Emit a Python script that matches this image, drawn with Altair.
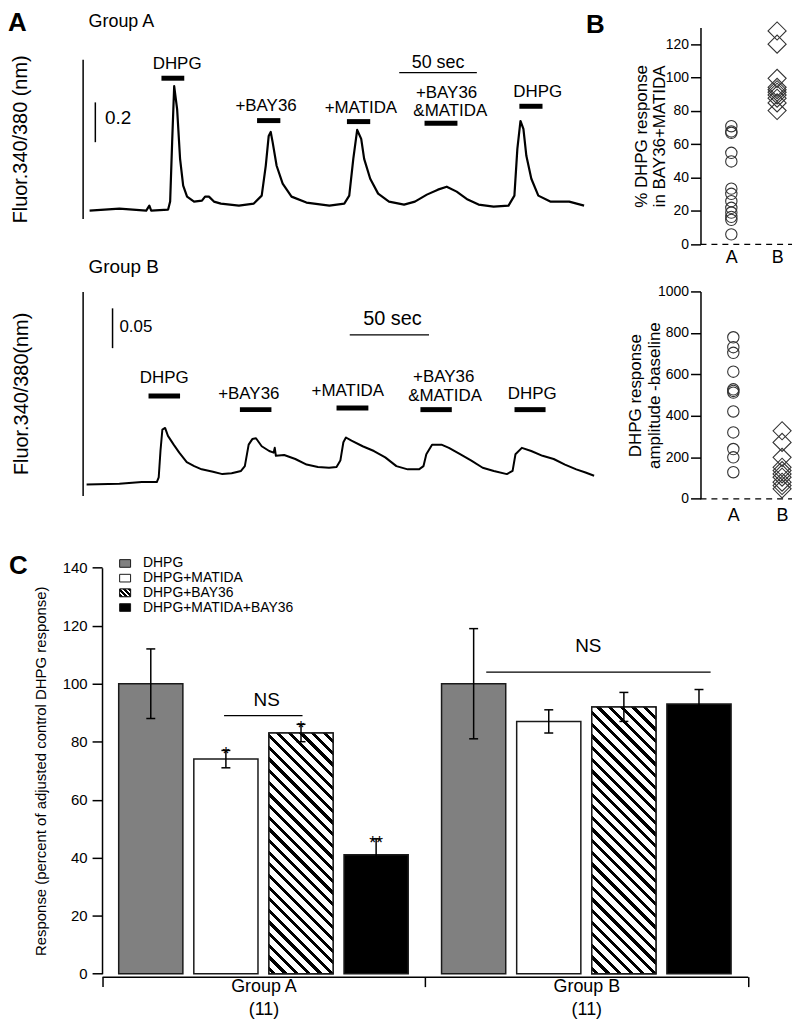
import altair as alt
import pandas as pd

FONT = "Liberation Sans"

# ======================= DATA =======================
# ---- Panel A, Group A trace: time (s) and Fluor 340/380 ratio ----
ga_time = [0, 19.2, 36.5, 38.5, 39.7, 50.6, 51.9, 53.2, 54.5, 56.4,
           58.3, 60.3, 62.8, 67.3, 72.4, 74.4, 76.9, 80.1, 84.6, 96.2,
           105.8, 110.9, 113.5, 115.4, 116.7, 117.9, 120.5, 124.4, 130.1, 139.7,
           154.5, 164.1, 167.3, 169.9, 172.4, 175.0, 176.9, 180.8, 185.9, 192.9,
           202.6, 209.6, 217.3, 224.4, 230.1, 236.5, 243.6, 250.6, 260.3, 269.9,
           273.7, 275.6, 277.6, 279.5, 281.4, 284.6, 289.1, 296.8, 309.0, 318.6]
ga_ratio = [0.50, 0.51, 0.50, 0.525, 0.50, 0.505, 0.545, 0.845, 1.125, 1.01,
            0.76, 0.625, 0.57, 0.545, 0.55, 0.57, 0.57, 0.545, 0.535, 0.525,
            0.535, 0.575, 0.725, 0.875, 0.895, 0.845, 0.725, 0.635, 0.57, 0.54,
            0.525, 0.535, 0.575, 0.76, 0.905, 0.86, 0.76, 0.66, 0.585, 0.545,
            0.53, 0.545, 0.58, 0.605, 0.62, 0.595, 0.555, 0.53, 0.52, 0.525,
            0.575, 0.81, 0.95, 0.91, 0.775, 0.66, 0.575, 0.545, 0.545, 0.525]
ga_drug_start = [46.3, 107.9, 165.8, 215.8, 276.9]
ga_drug_end = [61.0, 122.9, 180.8, 237.0, 291.8]
ga_drug_level = [1.165, 0.952, 0.947, 0.939, 1.024]
ga_label_text = ["DHPG", "+BAY36", "+MATIDA", "+BAY36", "&MATIDA", "DHPG"]
ga_label_time = [56.4, 113.7, 174.8, 230.0, 232.4, 288.7]
ga_label_ratio = [1.235, 1.023, 1.015, 1.092, 1.002, 1.095]
ga_sec_start = [199.5]
ga_sec_end = [249.5]
ga_sec_level = [1.1935]
ga_sec_label = ["50 sec"]
ga_sec_label_time = [224.5]
ga_sec_label_ratio = [1.2415]
ga_amp_time = [3.7]
ga_amp_low = [0.8435]
ga_amp_high = [1.0435]
ga_amp_label = ["0.2"]
ga_amp_label_time = [10.0]
ga_amp_label_ratio = [0.965]

# ---- Panel A, Group B trace ----
gb_time = [0, 20.6, 34.7, 44.1, 45.3, 46.4, 47.6, 49.3, 51.1, 54.7,
           58.2, 62.9, 67.6, 72.3, 79.4, 85.3, 91.1, 97.0, 99.4, 101.8,
           104.1, 106.4, 110.0, 114.7, 117.5, 118.2, 118.9, 124.1, 131.1, 138.2,
           145.3, 152.3, 157.0, 159.4, 161.3, 162.9, 166.4, 173.4, 180.5, 187.6,
           194.6, 201.7, 208.8, 211.6, 213.4, 217.0, 222.9, 227.6, 234.6, 241.7,
           248.8, 255.8, 264.0, 267.6, 269.4, 273.4, 279.3, 286.4, 293.4, 300.5,
           307.6, 313.4, 318.8]
gb_ratio = [0.500, 0.501, 0.503, 0.503, 0.509, 0.542, 0.569, 0.571, 0.561, 0.550,
            0.540, 0.528, 0.523, 0.519, 0.516, 0.513, 0.514, 0.517, 0.523, 0.550,
            0.557, 0.558, 0.548, 0.542, 0.540, 0.546, 0.536, 0.537, 0.532, 0.525,
            0.522, 0.521, 0.522, 0.530, 0.553, 0.559, 0.555, 0.548, 0.542, 0.534,
            0.523, 0.519, 0.519, 0.523, 0.538, 0.550, 0.550, 0.546, 0.538, 0.530,
            0.521, 0.517, 0.513, 0.517, 0.538, 0.546, 0.542, 0.536, 0.532, 0.525,
            0.519, 0.515, 0.511]
gb_drug_start = [38.9, 96.3, 157.0, 209.7, 268.8]
gb_drug_end = [58.7, 116.1, 177.0, 229.4, 288.3]
gb_drug_level = [0.611, 0.594, 0.596, 0.594, 0.594]
gb_label_text = ["DHPG", "+BAY36", "+MATIDA", "+BAY36", "&MATIDA", "DHPG"]
gb_label_time = [48.8, 101.9, 164.1, 224.3, 225.2, 279.9]
gb_label_ratio = [0.634, 0.613, 0.617, 0.6345, 0.6115, 0.614]
gb_sec_start = [165.3]
gb_sec_end = [215.1]
gb_sec_level = [0.6879]
gb_sec_label = ["50 sec"]
gb_sec_label_time = [192.1]
gb_sec_label_ratio = [0.7084]
gb_amp_time = [16.3]
gb_amp_low = [0.67125]
gb_amp_high = [0.72125]
gb_amp_label = ["0.05"]
gb_amp_label_time = [20.6]
gb_amp_label_ratio = [0.698]

# ---- Panel B ----
b_groups = ["A", "B"]
pct_A = [70.8, 67.7, 66.9, 54.9, 49.7, 33.4, 30.3, 25.9, 21.9, 19.1, 16.5, 14.7, 6.0]
pct_B = [127.9, 120.0, 99.5, 94.1, 92.7, 91.2, 89.6, 87.6, 84.8, 80.2]
amp_A = [779, 731, 704, 613, 528, 520, 512, 421, 320, 240, 200, 128]
amp_B = [328, 272, 200, 152, 136, 120, 104, 80, 64, 48]

# ---- Panel C ----
conds = ["DHPG", "DHPG+MATIDA", "DHPG+BAY36", "DHPG+MATIDA+BAY36"]
group_names = ["Group A", "Group B"]
group_n = ["(11)", "(11)"]
c_groups = ["Group A"] * 4 + ["Group B"] * 4
c_conds = conds * 2
c_means = [100, 74, 83, 41, 100, 87, 92, 93]
c_err_low = [88, 71, 80, 35.5, 81, 83, 87, 88]
c_err_high = [112, 77, 86, 46.5, 119, 91, 97, 98]
c_stars = ["", "*", "*", "**", "", "", "", ""]
ns_start = [0.378, 1.190]
ns_end = [0.621, 1.885]
ns_level = [89, 104]
ns_text_pos = [0.510, 1.506]
ns_text_level = [94.5, 113]

# ======================= STYLE HELPERS =======================
c_fill = ["#808080", "#ffffff", "#ffffff", "#000000"]
RECT = "M-1,-0.7L1,-0.7L1,0.7L-1,0.7Z"


def hatch_gradient(w, h, period=11.7, dark=4.3, phase=3.0):
    L = w + h
    stops = [{"offset": 0, "color": "white"}]
    s = phase
    while s < L:
        a = round(s / L, 5)
        b = round(min(s + dark, L) / L, 5)
        stops += [{"offset": a, "color": "white"}, {"offset": a, "color": "black"},
                  {"offset": b, "color": "black"}, {"offset": b, "color": "white"}]
        s += period
    stops.append({"offset": 1, "color": "white"})
    d = w * w + h * h
    ax = L * w / d
    by = L * h / d
    return {"gradient": "linear", "x1": 0, "y1": 1, "x2": round(ax, 5),
            "y2": round(1 - by, 5), "stops": stops}


def text_at(s, x, y, size, bold=False):
    return alt.Chart(pd.DataFrame({"s": [s]})).mark_text(
        fontSize=size, fontWeight="bold" if bold else "normal",
        align="left", baseline="top", color="black"
    ).encode(x=alt.value(x), y=alt.value(y), text="s:N")


def trace_panel(time, ratio, d_start, d_end, d_level, l_text, l_time, l_ratio,
                s_start, s_end, s_level, s_lab, s_lab_t, s_lab_v, s_size,
                a_time, a_low, a_high, a_lab, a_lab_t, a_lab_v, a_size,
                xdom, ydom, yrange, width, height, ytitle, title_x,
                extras, line_w):
    xs = alt.Scale(domain=xdom, nice=False, zero=False)
    if yrange is not None:
        ys = alt.Scale(domain=ydom, nice=False, zero=False, range=yrange)
    else:
        ys = alt.Scale(domain=ydom, nice=False, zero=False)
    yax = alt.Axis(domain=True, ticks=False, labels=False, grid=False,
                   title=ytitle, titleFontSize=20, titleX=title_x,
                   titleBaseline="bottom", domainColor="black", domainWidth=1.5)

    def X(f):
        return alt.X(f, type="quantitative", scale=xs, axis=None)

    def Y(f):
        return alt.Y(f, type="quantitative", scale=ys, axis=yax)

    trace = alt.Chart(pd.DataFrame({"t": time, "v": ratio})).mark_line(
        color="black", strokeWidth=line_w, strokeJoin="round"
    ).encode(x=X("t"), y=Y("v"))
    drugs = alt.Chart(pd.DataFrame({"s": d_start, "e": d_end, "v": d_level})).mark_rule(
        color="black", strokeWidth=5
    ).encode(x=X("s"), x2="e:Q", y=Y("v"))
    labels = alt.Chart(pd.DataFrame({"t": l_time, "v": l_ratio, "s": l_text})).mark_text(
        fontSize=17, align="center", baseline="middle", color="black"
    ).encode(x=X("t"), y=Y("v"), text="s:N")
    secbar = alt.Chart(pd.DataFrame({"s": s_start, "e": s_end, "v": s_level})).mark_rule(
        color="black", strokeWidth=1.3
    ).encode(x=X("s"), x2="e:Q", y=Y("v"))
    seclab = alt.Chart(pd.DataFrame({"t": s_lab_t, "v": s_lab_v, "s": s_lab})).mark_text(
        fontSize=s_size, align="center", baseline="middle", color="black"
    ).encode(x=X("t"), y=Y("v"), text="s:N")
    ampbar = alt.Chart(pd.DataFrame({"t": a_time, "lo": a_low, "hi": a_high})).mark_rule(
        color="black", strokeWidth=1.5
    ).encode(x=X("t"), y=Y("lo"), y2="hi:Q")
    amplab = alt.Chart(pd.DataFrame({"t": a_lab_t, "v": a_lab_v, "s": a_lab})).mark_text(
        fontSize=a_size, align="left", baseline="middle", color="black"
    ).encode(x=X("t"), y=Y("v"), text="s:N")
    return alt.layer(trace, drugs, labels, secbar, seclab, ampbar, amplab, *extras).properties(
        width=width, height=height)


def scatter_panel(vA, vB, ydom, yvals, height, ytitle, title_x, xdom, lab_pad):
    ys = alt.Scale(domain=ydom, nice=False, zero=True)
    yax = alt.Axis(values=yvals, format="d", tickSize=10, tickWidth=1.5, domainWidth=1.5,
                   labelFontSize=14, labelPadding=2, title=ytitle, titleFontSize=17,
                   titleLineHeight=18.5, titleX=title_x, titleBaseline="bottom", grid=False)
    # categories are placed at positions 1 and 2 of a linear category axis
    xs = alt.Scale(domain=xdom, nice=False, zero=False)
    cat_expr = "datum.value == 1 ? '%s' : '%s'" % (b_groups[0], b_groups[1])
    xax = alt.Axis(title=None, values=[1, 2], labelExpr=cat_expr, domain=False, ticks=False,
                   labelAngle=0, labelFontSize=18, labelPadding=lab_pad, grid=False)
    dfA = pd.DataFrame({"pos": [b_groups.index("A") + 1] * len(vA), "v": vA})
    dfB = pd.DataFrame({"pos": [b_groups.index("B") + 1] * len(vB), "v": vB})
    circ = alt.Chart(dfA).mark_point(
        shape="circle", size=130, color="#333333", strokeWidth=1.1, opacity=1).encode(
        x=alt.X("pos:Q", scale=xs, axis=xax), y=alt.Y("v:Q", scale=ys, axis=yax))
    diam = alt.Chart(dfB).mark_point(
        shape="diamond", size=330, color="#333333", strokeWidth=1.1, opacity=1).encode(
        x=alt.X("pos:Q", scale=xs, axis=xax), y=alt.Y("v:Q", scale=ys, axis=yax))
    zero = alt.Chart(pd.DataFrame({"pos": [xdom[0], xdom[1]], "v": [0, 0]})).mark_line(
        color="black", strokeWidth=1.2, strokeDash=[6, 5]
    ).encode(x=alt.X("pos:Q", scale=xs, axis=xax), y=alt.Y("v:Q", scale=ys, axis=yax))
    return alt.layer(zero, circ, diam).properties(width=92, height=height)


# ======================= PANEL A =======================
at = trace_panel(ga_time, ga_ratio, ga_drug_start, ga_drug_end, ga_drug_level,
                 ga_label_text, ga_label_time, ga_label_ratio,
                 ga_sec_start, ga_sec_end, ga_sec_level, ga_sec_label,
                 ga_sec_label_time, ga_sec_label_ratio, 18,
                 ga_amp_time, ga_amp_low, ga_amp_high, ga_amp_label,
                 ga_amp_label_time, ga_amp_label_ratio, 19,
                 [-4.487, 319.87], [0.46, 1.26], [192, 32], 506, 218,
                 "Fluor.340/380 (nm)", -52.5,
                 [text_at("A", -75, -17, 26, True), text_at("Group A", 6, -14, 18),
                  text_at("B", 506, -15, 26, True)], 2.2)

ab = trace_panel(gb_time, gb_ratio, gb_drug_start, gb_drug_end, gb_drug_level,
                 gb_label_text, gb_label_time, gb_label_ratio,
                 gb_sec_start, gb_sec_end, gb_sec_level, gb_sec_label,
                 gb_sec_label_time, gb_sec_label_ratio, 20,
                 gb_amp_time, gb_amp_low, gb_amp_high, gb_amp_label,
                 gb_amp_label_time, gb_amp_label_ratio, 17,
                 [-2.5, 313.75], [0.48625, 0.7425], None, 506, 205,
                 "Fluor.340/380(nm)", -51.5,
                 [text_at("Group B", 6, -34, 19)], 2.0)

# ======================= PANEL B =======================
bt = scatter_panel(pct_A, pct_B, [0, 130], [0, 20, 40, 60, 80, 100, 120], 218,
                   ["% DHPG response", "in BAY36+MATIDA"], -50.5, [0.3261, 2.3261], 4)
bb = scatter_panel(amp_A, amp_B, [0, 1000], [0, 200, 400, 600, 800, 1000], 208.4,
                   ["DHPG response", "amplitude -baseline"], -56, [0.3265, 2.2041], 8)

# ======================= PANEL C =======================
C_X0, C_X1 = 19.5, 668.5          # x extent of the bar axis inside the panel
C_TOP, C_DATA_H = 21.4, 408.0     # y of value 140 and height of the 0..140 range
C_W, C_H = 506, C_TOP + C_DATA_H  # layout cell (the axes extend past it)
c_df = pd.DataFrame({"group": c_groups, "cond": c_conds, "mean": c_means,
                     "lo": c_err_low, "hi": c_err_high, "star": c_stars})
label_expr = ("datum.label == '' ? '' : [datum.label, datum.label == '%s' ? '%s' : '%s']"
              % (group_names[0], group_n[0], group_n[1]))
xsc = alt.Scale(domain=group_names, range=[C_X0, C_X1], paddingInner=0, paddingOuter=0)
xax = alt.Axis(title=None, tickBand="extent", tickSize=10, tickWidth=1.5, domainWidth=1.5,
               offset=3, labelAngle=0, labelFontSize=18, labelPadding=-9,
               labelLineHeight=23, labelExpr=label_expr, grid=False)
xo_sc = alt.Scale(domain=conds, paddingInner=0.1457, paddingOuter=0.222)
ysc = alt.Scale(domain=[0, 140], nice=False, zero=True, range=[C_H, C_TOP])
yax = alt.Axis(values=list(range(0, 141, 20)), tickSize=10, tickWidth=1.5, domainWidth=1.5,
               labelFontSize=15, labelPadding=5, offset=-C_X0,
               title="Response (percent of adjusted control DHPG response)",
               titleFontSize=15, titleX=-53.5, titleBaseline="bottom", grid=False)


def CX():
    return alt.X("group:N", scale=xsc, axis=xax)


def CXO():
    return alt.XOffset("cond:N", scale=xo_sc)


def CY(f):
    return alt.Y(f, type="quantitative", scale=ysc, axis=yax)


bars = alt.Chart(c_df).mark_bar(stroke="#1a1a1a", strokeWidth=1.5).encode(
    x=CX(), xOffset=CXO(), y=CY("mean"),
    fill=alt.Fill("cond:N", scale=alt.Scale(domain=conds, range=c_fill), legend=None))

band_w = ((C_X1 - C_X0) / 2) / (4 - 0.1457 + 2 * 0.222) * (1 - 0.1457)
hatch_layers = []
for i in range(len(c_groups)):
    if c_conds[i] == conds[2]:
        h_px = c_means[i] * C_DATA_H / 140.0
        hatch_layers.append(
            alt.Chart(c_df).transform_filter(
                (alt.datum.cond == c_conds[i]) & (alt.datum.group == c_groups[i])
            ).mark_bar(fill=hatch_gradient(band_w, h_px), stroke="#1a1a1a", strokeWidth=1.5)
            .encode(x=CX(), xOffset=CXO(), y=CY("mean")))

errs = alt.Chart(c_df).mark_rule(color="black", strokeWidth=1.5).encode(
    x=CX(), xOffset=CXO(), y=CY("lo"), y2="hi:Q")
cap_hi = alt.Chart(c_df).mark_tick(color="black", thickness=1.5, size=9, opacity=1).encode(
    x=CX(), xOffset=CXO(), y=CY("hi"))
cap_lo = alt.Chart(c_df).mark_tick(color="black", thickness=1.5, size=9, opacity=1).encode(
    x=CX(), xOffset=CXO(), y=CY("lo"))
stars = alt.Chart(c_df).mark_text(fontSize=18, baseline="alphabetic", dy=10, color="black").encode(
    x=CX(), xOffset=CXO(), y=CY("hi"), text="star:N")

inner = alt.layer(bars, *hatch_layers, errs, cap_hi, cap_lo, stars)

ns_df = pd.DataFrame({"x1": ns_start, "x2": ns_end, "y": ns_level,
                      "tx": ns_text_pos, "ty": ns_text_level, "s": ["NS", "NS"]})
nxs = alt.Scale(domain=[0, 2], nice=False, zero=False, range=[C_X0, C_X1])
nys = alt.Scale(domain=[0, 140], nice=False, zero=True, range=[C_H, C_TOP])
ns_rule = alt.Chart(ns_df).mark_rule(color="black", strokeWidth=1.3).encode(
    x=alt.X("x1:Q", scale=nxs, axis=None), x2="x2:Q",
    y=alt.Y("y:Q", scale=nys, axis=None))
ns_text = alt.Chart(ns_df).mark_text(fontSize=19, baseline="middle", color="black").encode(
    x=alt.X("tx:Q", scale=nxs, axis=None), y=alt.Y("ty:Q", scale=nys, axis=None), text="s:N")
ns_layer = alt.layer(ns_rule, ns_text)

leg_df = pd.DataFrame({"label": conds})
lys = alt.Scale(type="point", domain=conds, range=[C_TOP - 4.3, C_TOP + 40], padding=0)
sw = alt.Chart(leg_df).mark_point(shape=RECT, size=121, filled=True, stroke="#1a1a1a",
                                  strokeWidth=1, opacity=1).encode(
    x=alt.value(C_X0 + 23.2), y=alt.Y("label:N", scale=lys, axis=None),
    fill=alt.Fill("label:N", scale=alt.Scale(domain=conds, range=c_fill), legend=None))
sw_h = alt.Chart(leg_df).transform_filter(alt.datum.label == conds[2]).mark_point(
    shape=RECT, size=121, filled=True, fill=hatch_gradient(11, 7.7, 5.0, 2.2, 1.0),
    stroke="#1a1a1a", strokeWidth=1, opacity=1).encode(
    x=alt.value(C_X0 + 23.2), y=alt.Y("label:N", scale=lys, axis=None))
lt = alt.Chart(leg_df).mark_text(align="left", baseline="middle", fontSize=14, color="black").encode(
    x=alt.value(C_X0 + 41.2), y=alt.Y("label:N", scale=lys, axis=None), text="label:N")
legend_layer = alt.layer(sw, sw_h, lt)

c_chart = alt.layer(inner, ns_layer, legend_layer,
                    text_at("C", -74, C_TOP - 15, 26, True)).resolve_scale(
    x="independent", y="independent").properties(width=C_W, height=C_H)

# ======================= LAYOUT =======================
chart = alt.concat(at, bt, ab, bb, c_chart, columns=2, align="none", bounds="flush",
                   spacing={"row": 47.3, "column": 115}).properties(
    padding={"left": 0, "top": 0, "right": 2, "bottom": 2}
).configure(font=FONT).configure_axis(
    grid=False, domainColor="black", tickColor="black", labelColor="black",
    titleColor="black", titleFontWeight="normal", labelFont=FONT, titleFont=FONT
).configure_view(strokeWidth=0)

chart.save("out.html", embed_options={"renderer": "svg", "actions": False})
